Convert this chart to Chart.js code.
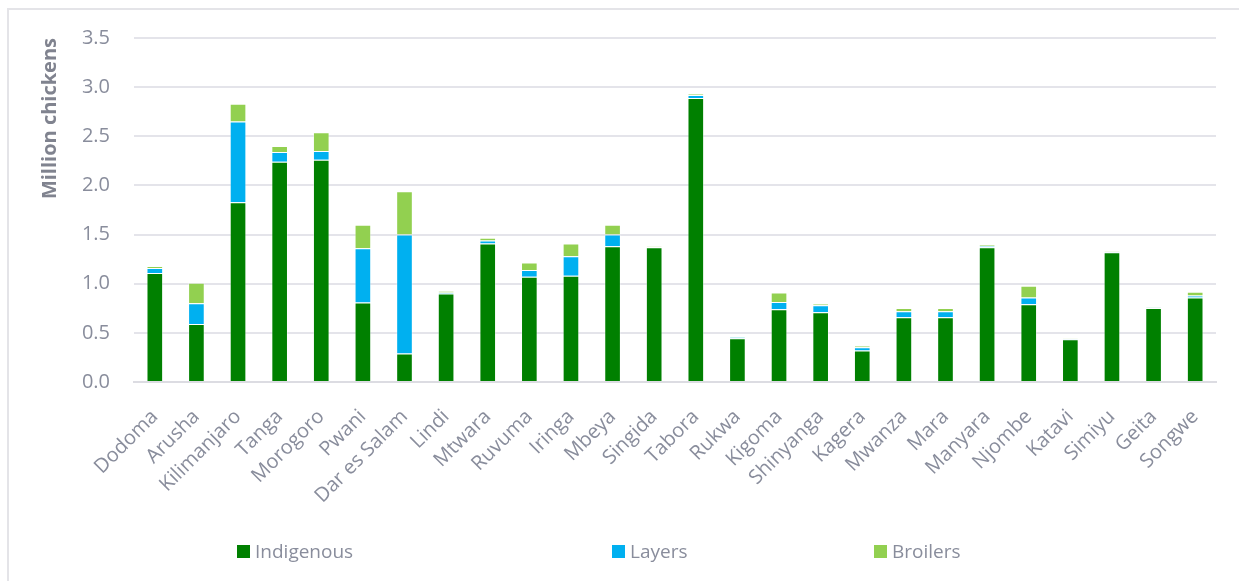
<!DOCTYPE html>
<html>
<head>
<meta charset="utf-8">
<title>Chickens by region</title>
<script src="https://cdn.jsdelivr.net/npm/chart.js@4/dist/chart.umd.min.js"></script>
<style>
  html, body { margin: 0; padding: 0; background: #fff; }
  #wrap { position: relative; width: 1239px; height: 581px; overflow: hidden; }
  #frame { position: absolute; left: 7px; top: 8px; width: 1260px; height: 600px;
           border-left: 2px solid #e4e4e8; border-top: 2px solid #e4e4e8; }
  #chart { position: absolute; left: 0; top: 0; }
  .lg { position: absolute; top: 538px; font: 19px "Open Sans", sans-serif; color: #898d9c;
        display: flex; align-items: center; }
  .lg i { display: inline-block; width: 13px; height: 13px; margin-right: 5px; }
</style>
</head>
<body>
<div id="wrap">
  <div id="frame"></div>
  <canvas id="chart" width="1239" height="581"></canvas>
  <div id="legend"></div>
</div>
<script>
const regions = ["Dodoma", "Arusha", "Kilimanjaro", "Tanga", "Morogoro", "Pwani", "Dar es Salam",
  "Lindi", "Mtwara", "Ruvuma", "Iringa", "Mbeya", "Singida", "Tabora", "Rukwa", "Kigoma",
  "Shinyanga", "Kagera", "Mwanza", "Mara", "Manyara", "Njombe", "Katavi", "Simiyu", "Geita", "Songwe"];

// million chickens
const indigenous = [1.11, 0.59, 1.83, 2.24, 2.26, 0.81, 0.29, 0.90, 1.41, 1.07, 1.08, 1.38, 1.37,
  2.89, 0.445, 0.74, 0.71, 0.32, 0.66, 0.66, 1.37, 0.79, 0.434, 1.32, 0.754, 0.86];
const layers = [0.05, 0.21, 0.82, 0.10, 0.09, 0.55, 1.21, 0.01, 0.03, 0.07, 0.20, 0.12, 0.004,
  0.03, 0.01, 0.075, 0.07, 0.033, 0.06, 0.06, 0.013, 0.07, 0.006, 0.003, 0.002, 0.02];
const broilers = [0.02, 0.21, 0.18, 0.06, 0.19, 0.24, 0.44, 0.017, 0.027, 0.075, 0.13, 0.10, 0.004,
  0.01, 0.005, 0.095, 0.017, 0.017, 0.034, 0.034, 0.012, 0.12, 0.003, 0.004, 0.003, 0.037];

const seriesNames = ["Indigenous", "Layers", "Broilers"];
const seriesColors = ["#008000", "#00b0f0", "#92d050"];
const legendLeft = [237, 612, 874];

const textGray = "#898d9c";

const datasets = [indigenous, layers, broilers].map((d, i) => ({
  label: seriesNames[i],
  data: d,
  backgroundColor: seriesColors[i],
  borderColor: "rgba(255,255,255,0.35)",
  borderWidth: 1,
  categoryPercentage: 1,
  barPercentage: 0.4
}));

new Chart(document.getElementById("chart"), {
  type: "bar",
  data: { labels: regions, datasets: datasets },
  options: {
    responsive: false,
    animation: false,
    layout: { padding: { left: 0, right: 23, top: 38, bottom: 0 } },
    plugins: { legend: { display: false }, tooltip: { enabled: false } },
    scales: {
      x: {
        stacked: true,
        grid: { display: false },
        border: { color: "#dcdce2", width: 2 },
        ticks: {
          color: textGray, font: { family: "Open Sans", size: 20 },
          minRotation: 45, maxRotation: 45, padding: 15, autoSkip: false
        },
        afterFit: s => { s.height = 199; }
      },
      y: {
        stacked: true,
        min: 0, max: 3.5,
        grid: { color: "#e4e4ea", lineWidth: 2, drawTicks: false },
        border: { display: false },
        ticks: {
          stepSize: 0.5, padding: 24, color: textGray,
          font: { family: "Open Sans", size: 20 },
          callback: v => v.toFixed(1)
        },
        title: {
          display: true, text: "Million chickens", align: "end",
          color: "#80838f", font: { family: "Open Sans", size: 20, weight: "bold" },
          padding: { top: 38, bottom: 0 }
        },
        afterFit: s => { s.width = 134; }
      }
    }
  }
});

const lg = document.getElementById("legend");
seriesNames.forEach((n, i) => {
  const d = document.createElement("div");
  d.className = "lg";
  d.style.left = legendLeft[i] + "px";
  d.innerHTML = `<i style="background:${seriesColors[i]}"></i>${n}`;
  lg.appendChild(d);
});
</script>
</body>
</html>
